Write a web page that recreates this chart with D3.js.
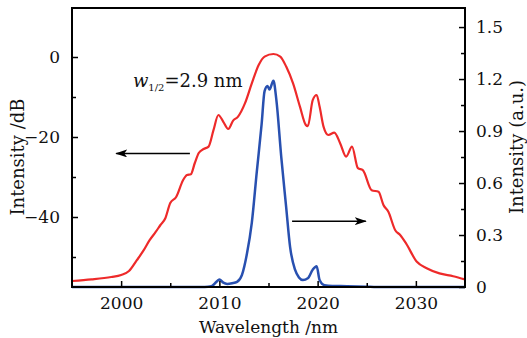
<!DOCTYPE html>
<html>
<head>
<meta charset="utf-8">
<script src="https://cdn.jsdelivr.net/npm/d3@7"></script>
<style>
  body { margin: 0; background: #fff; }
  svg text { font-family: "DejaVu Serif", "Liberation Serif", serif; fill: #111; }
</style>
</head>
<body>
<figure id="chart" style="margin:0"></figure>
<script>
// red spectrum (dB, left axis)
const redWl = [1995.0, 1997.0, 1999.0, 2000.0, 2000.8, 2001.6, 2002.3, 2002.9, 2003.5, 2004.0,
  2004.5, 2005.0, 2005.6, 2006.3, 2006.7, 2007.1, 2007.5, 2007.9, 2008.4, 2008.9,
  2009.4, 2009.9, 2010.4, 2010.9, 2011.4, 2011.9, 2012.6, 2013.3, 2014.0, 2014.6,
  2015.5, 2016.2, 2016.8, 2017.5, 2018.2, 2018.8, 2019.0, 2019.5, 2019.9, 2020.2,
  2020.6, 2021.1, 2021.7, 2022.3, 2022.9, 2023.5, 2024.1, 2024.6, 2025.5, 2026.2,
  2026.7, 2027.2, 2027.9, 2028.4, 2029.0, 2030.1, 2031.1, 2032.4, 2033.8, 2035.0];
const redDb = [-56.0, -55.6, -55.0, -54.5, -53.5, -50.8, -48.3, -45.8, -43.8, -42.0,
  -40.3, -36.5, -35.0, -30.8, -29.5, -29.3, -26.5, -24.0, -23.0, -22.4,
  -18.3, -14.5, -16.2, -18.0, -15.9, -14.9, -11.6, -6.6, -2.0, 0.1,
  0.75, 0.1, -2.4, -6.6, -12.4, -17.0, -17.3, -10.8, -9.5, -12.4,
  -17.4, -19.5, -18.9, -21.6, -24.9, -22.4, -27.8, -28.3, -33.3, -33.7,
  -37.0, -38.7, -43.3, -44.5, -46.6, -51.2, -52.8, -54.1, -54.8, -55.6];

// blue spectrum (a.u., right axis)
const blueWl = [1995, 2008.5, 2009.2, 2009.7, 2010.0, 2010.4, 2010.8, 2011.3, 2011.8, 2012.3,
  2012.8, 2013.3, 2013.8, 2014.3, 2014.6, 2014.9, 2015.1, 2015.5, 2015.8, 2016.3,
  2016.8, 2017.2, 2017.7, 2018.1, 2018.5, 2019.0, 2019.5, 2019.9, 2020.2, 2020.7,
  2021.5, 2023, 2025, 2026, 2035];
const blueAu = [0, 0, 0.005, 0.03, 0.044, 0.025, 0.018, 0.022, 0.03, 0.07,
  0.19, 0.37, 0.66, 0.94, 1.13, 1.16, 1.14, 1.19, 1.08, 0.75,
  0.46, 0.23, 0.10, 0.055, 0.04, 0.05, 0.10, 0.12, 0.04, 0.01,
  0.006, 0.005, 0.002, 0, 0];

const xTicks = [2000, 2010, 2020, 2030];
const xMinor = [2005, 2015, 2025];
const leftTicks = [0, -20, -40];
const leftMinor = [-10, -30, -50];
const rightTicks = [0, 0.3, 0.6, 0.9, 1.2, 1.5];
const rightMinor = [0.15, 0.45, 0.75, 1.05, 1.35];

const W = 527, H = 338;
const margin = {top: 8, right: 62, bottom: 51, left: 72};
const width = W - margin.left - margin.right;
const height = H - margin.top - margin.bottom;

const svg = d3.select("#chart").append("svg")
  .attr("width", W).attr("height", H);
const g = svg.append("g")
  .attr("transform", "translate(" + margin.left + "," + margin.top + ")");

const x = d3.scaleLinear().domain([1995, 2035]).range([0, width]);
const yL = d3.scaleLinear().domain([-57.5, 12.25]).range([height, 0]);
const yR = d3.scaleLinear().domain([0, 1.61]).range([height, 0]);

// curves
const redLine = d3.line().x(i => x(redWl[i])).y(i => yL(redDb[i])).curve(d3.curveMonotoneX);
const blueLine = d3.line().x(i => x(blueWl[i])).y(i => yR(blueAu[i])).curve(d3.curveMonotoneX);

g.append("path").attr("d", redLine(d3.range(redWl.length)))
  .attr("fill", "none").attr("stroke", "#ee2a2a").attr("stroke-width", 2.2);
g.append("path").attr("d", blueLine(d3.range(blueWl.length)))
  .attr("fill", "none").attr("stroke", "#2850b0").attr("stroke-width", 2.5);

// axes, ticks inward
function styleAxis(sel) {
  sel.select(".domain").remove();
  sel.selectAll("line").attr("stroke", "#000").attr("stroke-width", 1.5);
  sel.selectAll("text").style("font-size", "17px")
    .style("font-family", "'DejaVu Serif', serif").attr("fill", "#111");
}

const fmt = d => d < 0 ? "\u2212" + Math.abs(d) : String(d);

g.append("g").attr("transform", "translate(0," + height + ")")
  .call(d3.axisBottom(x).tickValues(xTicks).tickSize(-6).tickPadding(10).tickFormat(d3.format("d")))
  .call(styleAxis);
g.append("g").attr("transform", "translate(0," + height + ")")
  .call(d3.axisBottom(x).tickValues(xMinor).tickSize(-4).tickFormat(""))
  .call(styleAxis);

g.append("g")
  .call(d3.axisLeft(yL).tickValues(leftTicks).tickSize(-6).tickPadding(12).tickFormat(fmt))
  .call(styleAxis);
g.append("g")
  .call(d3.axisLeft(yL).tickValues(leftMinor).tickSize(-4).tickFormat(""))
  .call(styleAxis);

g.append("g").attr("transform", "translate(" + width + ",0)")
  .call(d3.axisRight(yR).tickValues(rightTicks).tickSize(-6).tickPadding(11).tickFormat(d => d === 0 ? "0" : d3.format(".1f")(d)))
  .call(styleAxis);
g.append("g").attr("transform", "translate(" + width + ",0)")
  .call(d3.axisRight(yR).tickValues(rightMinor).tickSize(-4).tickFormat(""))
  .call(styleAxis);

// frame
g.append("rect").attr("width", width).attr("height", height)
  .attr("fill", "none").attr("stroke", "#000").attr("stroke-width", 2);

// axis titles
svg.append("text").attr("x", margin.left + width / 2).attr("y", 333)
  .attr("text-anchor", "middle").style("font-size", "17px").text("Wavelength /nm");
svg.append("text").attr("transform", "translate(24,157) rotate(-90)")
  .attr("text-anchor", "middle").style("font-size", "18px").text("Intensity /dB");
svg.append("text").attr("transform", "translate(523,147) rotate(-90)")
  .attr("text-anchor", "middle").style("font-size", "18px").text("Intensity (a.u.)");

// arrows
const defs = svg.append("defs");
defs.append("marker").attr("id", "head").attr("viewBox", "0 0 12 8")
  .attr("refX", 11).attr("refY", 4).attr("markerWidth", 12).attr("markerHeight", 8)
  .attr("markerUnits", "userSpaceOnUse").attr("orient", "auto")
  .append("path").attr("d", "M0,0 L12,4 L0,8 L3,4 Z").attr("fill", "#000");

g.append("line")
  .attr("x1", x(2007.0)).attr("x2", x(1999.5))
  .attr("y1", yL(-24.1)).attr("y2", yL(-24.1))
  .attr("stroke", "#000").attr("stroke-width", 1.5).attr("marker-end", "url(#head)");
g.append("line")
  .attr("x1", x(2017.4)).attr("x2", x(2024.9))
  .attr("y1", yR(0.38)).attr("y2", yR(0.38))
  .attr("stroke", "#000").attr("stroke-width", 1.5).attr("marker-end", "url(#head)");

// FWHM label
const lab = g.append("text").attr("x", x(2001.2)).attr("y", yL(-7.4)).style("font-size", "18px");
lab.append("tspan").style("font-style", "italic").text("w");
lab.append("tspan").attr("dy", 4).style("font-size", "10px").text("1/2");
lab.append("tspan").attr("dy", -4).text("=2.9 nm");
</script>
</body>
</html>
